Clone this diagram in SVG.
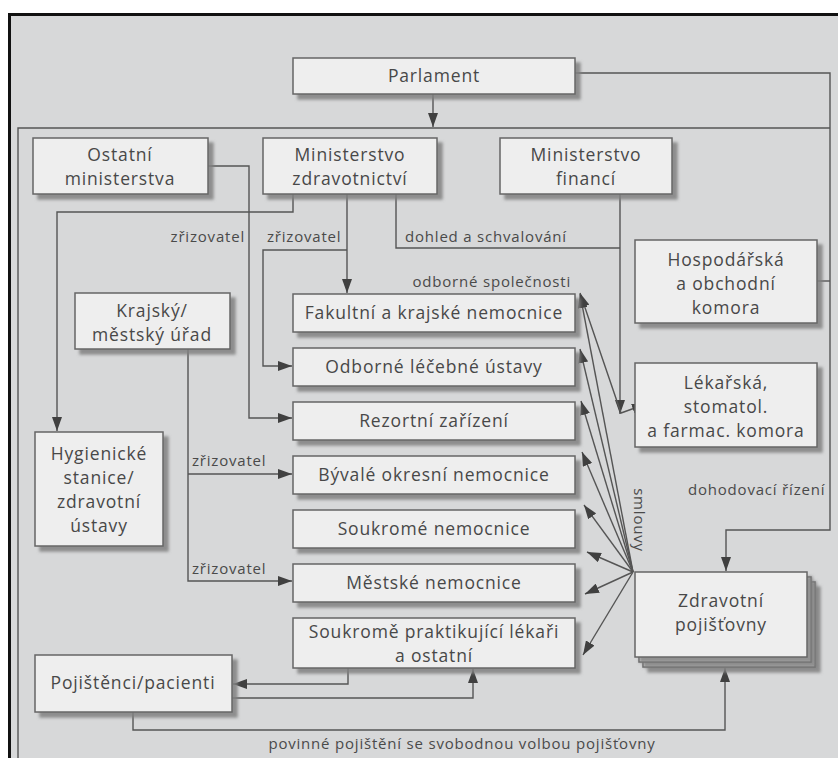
<svg xmlns="http://www.w3.org/2000/svg" width="838" height="758" viewBox="0 0 838 758">
<style>
.bx{fill:#eeeeee;stroke:#666;stroke-width:1.5;filter:url(#sh)}
.t{font-family:"Open Sans","Noto Sans",sans-serif;font-size:17.5px;letter-spacing:0.85px;fill:#484848;text-anchor:middle}
.l{font-family:"Open Sans","Noto Sans",sans-serif;font-size:15px;letter-spacing:0.8px;fill:#4a4a4a}
.c{fill:none;stroke:#555;stroke-width:1.4}
.a{marker-end:url(#ah)}
</style>
<defs>
<filter id="sh" x="-10%" y="-10%" width="130%" height="140%">
<feDropShadow dx="5" dy="5" stdDeviation="1.5" flood-color="#808080" flood-opacity="0.85"/>
</filter>
<marker id="ah" viewBox="0 0 14 10" refX="14" refY="5" markerWidth="14" markerHeight="10" orient="auto-start-reverse" markerUnits="userSpaceOnUse">
<path d="M0,0 L14,5 L0,10 z" fill="#404040"/>
</marker>
</defs>
<rect x="0" y="0" width="838" height="758" fill="#ffffff"/>
<rect x="9" y="14" width="829" height="744" fill="#d7d8d9"/>
<path d="M9.5,758 V14.5 H838" fill="none" stroke="#111" stroke-width="3"/>

<g id="connectors">
<path class="c" d="M18,758 V128 H830"/>
<path class="c a" d="M433,94 V127"/>
<path class="c a" d="M575,73 H830 V530 H726 V571"/>
<path class="c" d="M817,281 H830"/>
<path class="c a" d="M208,166 H249 V418 H292"/>
<path class="c a" d="M293,194 V212 H57 V431"/>
<path class="c a" d="M347,194 V293"/>
<path class="c a" d="M347,250 H263 V366 H292"/>
<path class="c" d="M396,194 V248 H620"/>
<path class="c a" d="M620,194 V414"/>
<path class="c" d="M580,293 L621,413 L646,404" style="marker-start:url(#ah);marker-end:url(#ah)"/>
<path class="c a" d="M188,349 V581 H292"/>
<path class="c a" d="M188,474 H292"/>
<path class="c a" d="M633,572 L580,294"/>
<path class="c a" d="M633,572 L580,349"/>
<path class="c a" d="M633,572 L581,401"/>
<path class="c a" d="M633,572 L582,452"/>
<path class="c a" d="M633,572 L584,505"/>
<path class="c a" d="M633,572 L587,552"/>
<path class="c a" d="M633,572 L585,594"/>
<path class="c a" d="M633,572 L583,655"/>
<path class="c a" d="M348,668 V684 H233"/>
<path class="c a" d="M232,698 H473 V669"/>
<path class="c a" d="M133,712 V730 H725 V668"/>
</g>

<g id="labels">
<text class="l" x="245" y="242" text-anchor="end">zřizovatel</text>
<text class="l" x="267" y="242">zřizovatel</text>
<text class="l" x="405" y="242">dohled a schvalování</text>
<text class="l" x="571" y="287" text-anchor="end">odborné společnosti</text>
<text class="l" x="192" y="466">zřizovatel</text>
<text class="l" x="192" y="574">zřizovatel</text>
<text class="l" x="688" y="495">dohodovací řízení</text>
<text class="l" transform="translate(634,520) rotate(90)" text-anchor="middle">smlouvy</text>
<text class="l" x="462" y="749" text-anchor="middle">povinné pojištění se svobodnou volbou pojišťovny</text>
</g>

<g id="parlament"><rect class="bx" x="293" y="58" width="282" height="36"/><text class="t" x="434" y="82">Parlament</text></g>
<g id="ostatni-ministerstva"><rect class="bx" x="33" y="138" width="175" height="56"/><text class="t" x="120" y="161">Ostatní</text><text class="t" x="120" y="185">ministerstva</text></g>
<g id="ministerstvo-zdravotnictvi"><rect class="bx" x="263" y="138" width="174" height="56"/><text class="t" x="350" y="161">Ministerstvo</text><text class="t" x="350" y="185">zdravotnictví</text></g>
<g id="ministerstvo-financi"><rect class="bx" x="500" y="138" width="172" height="56"/><text class="t" x="586" y="161">Ministerstvo</text><text class="t" x="586" y="185">financí</text></g>
<g id="hospodarska-komora"><rect class="bx" x="635" y="240" width="182" height="83"/><text class="t" x="726" y="266">Hospodářská</text><text class="t" x="726" y="290">a obchodní</text><text class="t" x="726" y="314">komora</text></g>
<g id="lekarska-komora"><rect class="bx" x="635" y="363" width="182" height="84"/><text class="t" x="726" y="389">Lékařská,</text><text class="t" x="726" y="413">stomatol.</text><text class="t" x="726" y="437">a farmac. komora</text></g>
<g id="krajsky-urad"><rect class="bx" x="75" y="293" width="155" height="56"/><text class="t" x="152" y="317">Krajský/</text><text class="t" x="152" y="341">městský úřad</text></g>
<g id="hygienicke-stanice"><rect class="bx" x="35" y="432" width="128" height="114"/><text class="t" x="99" y="460">Hygienické</text><text class="t" x="99" y="484">stanice/</text><text class="t" x="99" y="508">zdravotní</text><text class="t" x="99" y="532">ústavy</text></g>
<g id="fakultni-nemocnice"><rect class="bx" x="293" y="294" width="282" height="38"/><text class="t" x="434" y="319">Fakultní a krajské nemocnice</text></g>
<g id="odborne-ustavy"><rect class="bx" x="293" y="348" width="282" height="38"/><text class="t" x="434" y="373">Odborné léčebné ústavy</text></g>
<g id="rezortni-zarizeni"><rect class="bx" x="293" y="402" width="282" height="38"/><text class="t" x="434" y="427">Rezortní zařízení</text></g>
<g id="byvale-okresni"><rect class="bx" x="293" y="456" width="282" height="38"/><text class="t" x="434" y="481">Bývalé okresní nemocnice</text></g>
<g id="soukrome-nemocnice"><rect class="bx" x="293" y="510" width="282" height="38"/><text class="t" x="434" y="535">Soukromé nemocnice</text></g>
<g id="mestske-nemocnice"><rect class="bx" x="293" y="564" width="282" height="38"/><text class="t" x="434" y="589">Městské nemocnice</text></g>
<g id="soukrome-lekari"><rect class="bx" x="293" y="618" width="282" height="50"/><text class="t" x="434" y="638">Soukromě praktikující lékaři</text><text class="t" x="434" y="662">a ostatní</text></g>
<g id="pojistenci"><rect class="bx" x="35" y="655" width="197" height="57"/><text class="t" x="133" y="689">Pojištěnci/pacienti</text></g>
<g id="zdravotni-pojistovny">
<rect class="bx" x="643" y="582" width="172" height="85"/>
<rect class="bx" x="639" y="577" width="172" height="85"/>
<rect class="bx" x="635" y="572" width="172" height="85"/>
<text class="t" x="721" y="607">Zdravotní</text><text class="t" x="721" y="631">pojišťovny</text>
</g>
</svg>
